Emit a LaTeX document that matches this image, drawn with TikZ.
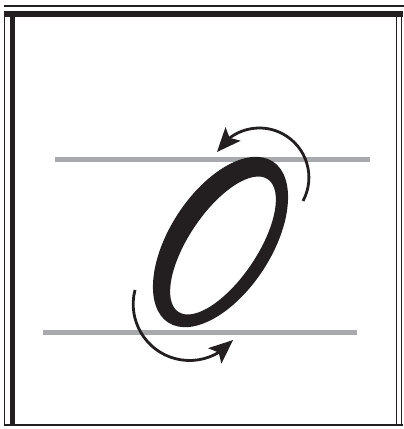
\documentclass[tikz,border=0pt]{standalone}
\usetikzlibrary{arrows.meta,bending}
\definecolor{ink}{HTML}{231F20}
\definecolor{guide}{HTML}{A7A9AC}
\tikzset{
  frameline/.style={draw=ink,line width=1.5pt},
  guideline/.style={draw=guide,line width=5pt},
  turnarrow/.style={draw=ink,line width=2.8pt,
    -{Stealth[length=24pt,width=20pt,inset=5pt,flex]}}
}
\begin{document}
\begin{tikzpicture}[x=1pt,y=-1pt]
\useasboundingbox (0,0) rectangle (404,429);
% frame
\coordinate (tl) at (4,5.8);
\coordinate (tr) at (404,5.8);
\draw[frameline,line width=1.7pt] (tl) -- (tr);
\fill[ink] (4,11) rectangle (402.7,17);
\fill[ink] (9.6,11) rectangle (14.8,424);
\draw[frameline,line width=1.4pt] (4.6,11) -- (4.6,425.5);
\draw[frameline] (396.7,11) -- (396.7,424);
\draw[frameline] (401.5,11) -- (401.5,425.5);
\draw[frameline] (4,424.8) -- (403,424.8);
% guide lines
\coordinate (g1a) at (55,159);
\coordinate (g1b) at (370,159);
\coordinate (g2a) at (43,332.5);
\coordinate (g2b) at (357,332.5);
\draw[guideline] (g1a) -- (g1b);
\draw[guideline] (g2a) -- (g2b);
% letter O
\fill[ink,even odd rule]
  (220.5,242) ellipse[x radius=96,y radius=51,rotate=57]
  (223,245.5) ellipse[x radius=80,y radius=34,rotate=56];
% arrows
\coordinate (c1) at (259.4,177.5);
\coordinate (c2) at (189.6,304.1);
\draw[turnarrow] ([shift={(28.3:49.5)}]c1) arc[start angle=28.3,end angle=-149,radius=49.5];
\draw[turnarrow] ([shift={(194.5:56.4)}]c2) arc[start angle=194.5,end angle=39.6,radius=56.4];
\end{tikzpicture}
\end{document}
